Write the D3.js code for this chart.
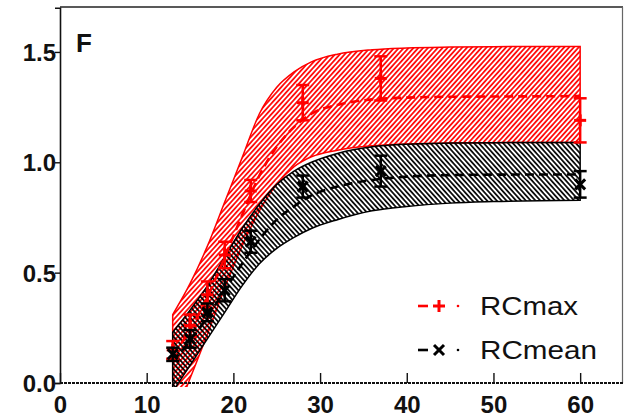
<!DOCTYPE html>
<html lang="en">
<head>
<meta charset="UTF-8">
<title>RCmax / RCmean</title>
<script src="https://d3js.org/d3.v7.min.js"></script>
<style>
    body { margin: 0; background: #fff; }
    svg { display: block; font-family: 'Liberation Sans', Arial, sans-serif; }
    .tick-label { font-size: 24px; font-weight: bold; fill: #111; }
    .legend-text { font-size: 25px; fill: #111; }
</style>
</head>
<body>
<svg id="chart" width="625" height="419"></svg>
<script>
    // measured points
    const days = [13, 15, 17, 19, 22, 28, 37, 60];
    const rcMax = [0.15, 0.26, 0.40, 0.58, 0.87, 1.27, 1.38, 1.19];
    const rcMaxErr = [0.04, 0.05, 0.06, 0.06, 0.05, 0.08, 0.10, 0.10];
    const rcMean = [0.13, 0.20, 0.32, 0.42, 0.64, 0.89, 0.96, 0.90];
    const rcMeanErr = [0.03, 0.04, 0.04, 0.05, 0.05, 0.05, 0.07, 0.06];

    // fitted curves and their bands
    const curveX = [13, 15, 17, 19, 21, 23, 25, 27, 29, 32, 36, 40, 45, 50, 60];
    const rcMaxFit = [0.13, 0.24, 0.39, 0.57, 0.76, 0.94, 1.07, 1.16, 1.22, 1.26, 1.285, 1.293, 1.297, 1.298, 1.30];
    const rcMaxUpper = [0.31, 0.45, 0.62, 0.82, 1.02, 1.22, 1.34, 1.41, 1.455, 1.49, 1.51, 1.518, 1.522, 1.524, 1.525];
    const rcMaxLower = [-0.18, 0.02, 0.22, 0.43, 0.62, 0.78, 0.90, 0.98, 1.025, 1.055, 1.075, 1.083, 1.087, 1.089, 1.09];
    const rcMeanFit = [0.10, 0.19, 0.30, 0.42, 0.54, 0.65, 0.74, 0.80, 0.85, 0.89, 0.92, 0.935, 0.942, 0.944, 0.945];
    const rcMeanUpper = [0.23, 0.33, 0.44, 0.57, 0.70, 0.81, 0.90, 0.96, 1.00, 1.04, 1.07, 1.082, 1.087, 1.089, 1.09];
    const rcMeanLower = [-0.04, 0.08, 0.20, 0.32, 0.44, 0.54, 0.61, 0.66, 0.70, 0.74, 0.78, 0.80, 0.815, 0.822, 0.828];

    const xTicks = [0, 10, 20, 30, 40, 50, 60];
    const yTicks = [0, 0.5, 1.0, 1.5];
    const seriesNames = ["RCmax", "RCmean"];

    const svg = d3.select("#chart");
    const x = d3.scaleLinear().domain([0, 65]).range([60, 623.5]);
    const y = d3.scaleLinear().domain([0, 1.7]).range([383, 7.8]);

    // hatch patterns
    const defs = svg.append("defs");
    function hatch(id, color, angle) {
        const p = defs.append("pattern")
            .attr("id", id)
            .attr("patternUnits", "userSpaceOnUse")
            .attr("width", 3.6).attr("height", 3.6)
            .attr("patternTransform", `rotate(${angle})`);
        p.append("line")
            .attr("x1", 0.9).attr("y1", 0).attr("x2", 0.9).attr("y2", 3.6)
            .attr("stroke", color).attr("stroke-width", 1.7);
    }
    hatch("hatchRed", "#ff0000", 42);
    hatch("hatchBlack", "#000", -42);

    defs.append("clipPath").attr("id", "plotClip")
        .append("rect")
        .attr("x", 60).attr("y", 7)
        .attr("width", 563).attr("height", 380);

    const plot = svg.append("g").attr("clip-path", "url(#plotClip)");

    const area = (upper, lower) => d3.area()
        .x((d, i) => x(curveX[i]))
        .y0((d, i) => y(lower[i]))
        .y1((d, i) => y(upper[i]))
        .curve(d3.curveMonotoneX);

    const line = vals => d3.line()
        .x((d, i) => x(curveX[i]))
        .y((d, i) => y(vals[i]))
        .curve(d3.curveMonotoneX);

    // bands
    plot.append("path").datum(curveX)
        .attr("d", area(rcMaxUpper, rcMaxLower))
        .attr("fill", "url(#hatchRed)")
        .attr("stroke", "#ff0000").attr("stroke-width", 1.5);
    plot.append("path").datum(curveX)
        .attr("d", area(rcMeanUpper, rcMeanLower))
        .attr("fill", "url(#hatchBlack)")
        .attr("stroke", "#000").attr("stroke-width", 1.5);

    // fitted dashed lines
    plot.append("path").datum(curveX)
        .attr("d", line(rcMaxFit))
        .attr("fill", "none").attr("stroke", "#ff0000")
        .attr("stroke-width", 2.6).attr("stroke-dasharray", "9,5");
    plot.append("path").datum(curveX)
        .attr("d", line(rcMeanFit))
        .attr("fill", "none").attr("stroke", "#000")
        .attr("stroke-width", 2.6).attr("stroke-dasharray", "9,5");

    // error bars and markers
    function drawPoints(vals, errs, color, marker) {
        const g = svg.append("g").attr("stroke", color).attr("stroke-width", 2.5);
        days.forEach((d, i) => {
            const cx = x(d);
            const top = y(vals[i] + errs[i]);
            const bot = y(vals[i] - errs[i]);
            g.append("line").attr("x1", cx).attr("x2", cx).attr("y1", top).attr("y2", bot);
            g.append("line").attr("x1", cx - 6.5).attr("x2", cx + 6.5).attr("y1", top).attr("y2", top);
            g.append("line").attr("x1", cx - 6.5).attr("x2", cx + 6.5).attr("y1", bot).attr("y2", bot);
            drawMarker(g, marker, cx, y(vals[i]));
        });
    }
    function drawMarker(g, marker, cx, cy) {
        if (marker === "plus") {
            g.append("line").attr("x1", cx - 6).attr("x2", cx + 6).attr("y1", cy).attr("y2", cy).attr("stroke-width", 3);
            g.append("line").attr("x1", cx).attr("x2", cx).attr("y1", cy - 6).attr("y2", cy + 6).attr("stroke-width", 3);
        } else {
            g.append("line").attr("x1", cx - 5).attr("x2", cx + 5).attr("y1", cy - 5).attr("y2", cy + 5).attr("stroke-width", 3);
            g.append("line").attr("x1", cx - 5).attr("x2", cx + 5).attr("y1", cy + 5).attr("y2", cy - 5).attr("stroke-width", 3);
        }
    }
    drawPoints(rcMax, rcMaxErr, "#ff0000", "plus");
    drawPoints(rcMean, rcMeanErr, "#000", "cross");

    // frame
    svg.append("line").attr("x1", 60).attr("x2", 623).attr("y1", 7).attr("y2", 7)
        .attr("stroke", "#222").attr("stroke-width", 1.5);
    svg.append("line").attr("x1", 622.5).attr("x2", 622.5).attr("y1", 7).attr("y2", 383)
        .attr("stroke", "#666").attr("stroke-width", 1.2);

    // y axis
    const yAxis = d3.axisLeft(y).tickValues(yTicks).tickSize(5).tickFormat(d3.format(".1f"));
    const gy = svg.append("g").attr("transform", "translate(60,0)").call(yAxis);
    gy.select(".domain").attr("stroke", "#111").attr("stroke-width", 1.6);
    gy.selectAll(".tick line").attr("stroke", "#111").attr("stroke-width", 1.4);
    gy.selectAll(".tick text").attr("class", "tick-label").attr("x", -4).attr("dy", "0.35em");

    // x axis (ticks point inward)
    const xAxis = d3.axisBottom(x).tickValues(xTicks).tickSize(-10).tickSizeOuter(0);
    const gx = svg.append("g").attr("transform", "translate(0,383)").call(xAxis);
    gx.select(".domain").remove();
    gx.append("line").attr("x1", 60).attr("x2", 623).attr("y1", 0).attr("y2", 0)
        .attr("stroke", "#111").attr("stroke-width", 2).attr("stroke-dasharray", "3,1");
    gx.selectAll(".tick line").attr("stroke", "#111").attr("stroke-width", 1.4);
    gx.selectAll(".tick text").attr("class", "tick-label").attr("y", 30).attr("dy", 0);
    svg.selectAll(".tick text").attr("font-size", null).attr("font-family", null);

    // panel letter
    svg.append("text").attr("x", 76).attr("y", 52)
        .style("font-size", "26px").style("font-weight", "bold").style("fill", "#111").text("F");

    // legend
    const legend = svg.append("g");
    const legendItems = [
        { name: seriesNames[0], color: "#ff0000", marker: "plus", yPos: 306, len: 98 },
        { name: seriesNames[1], color: "#000", marker: "cross", yPos: 350, len: 117 }
    ];
    legendItems.forEach(item => {
        const g = legend.append("g").attr("stroke", item.color).attr("stroke-width", 2.6);
        g.append("line").attr("x1", 418).attr("x2", 428).attr("y1", item.yPos).attr("y2", item.yPos);
        drawMarker(g, item.marker, 439, item.yPos);
        g.append("circle").attr("cx", 458).attr("cy", item.yPos).attr("r", 1.3)
            .attr("fill", item.color).attr("stroke", "none");
        legend.append("text").attr("class", "legend-text")
            .attr("x", 480).attr("y", item.yPos + 9)
            .attr("textLength", item.len).attr("lengthAdjust", "spacingAndGlyphs")
            .text(item.name);
    });
</script>
</body>
</html>
